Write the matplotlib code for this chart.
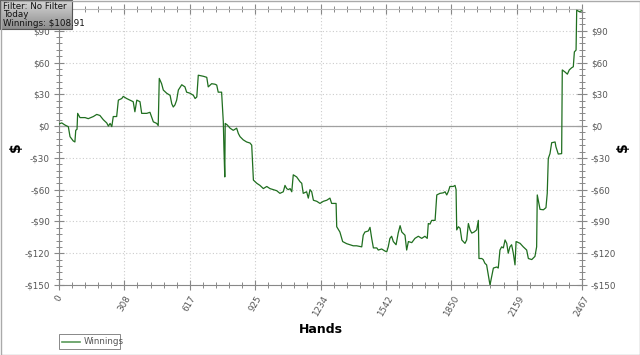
import matplotlib
matplotlib.use("Agg")
import matplotlib.pyplot as plt
import numpy as np
from matplotlib.patches import Rectangle
from matplotlib.ticker import FixedLocator, MultipleLocator

hands = [0, 13, 28, 44, 52, 67, 75, 79, 85, 88, 99, 123, 138, 162, 178, 193, 209, 225, 233, 241,
         249, 256, 272, 280, 296, 303, 319, 335, 350, 358, 367, 382, 390, 414, 429, 445, 461, 468, 473, 484,
         492, 508, 524, 532, 539, 547, 555, 563, 579, 594, 602, 618, 634, 642, 650, 657, 681, 697, 704, 720,
         736, 744, 751, 767, 775, 778, 782, 784, 794, 807, 822, 838, 846, 854, 869, 885, 901, 909, 917, 933,
         948, 964, 980, 995, 1011, 1027, 1042, 1058, 1066, 1074, 1082, 1090, 1098, 1105, 1121, 1137, 1145, 1152, 1168, 1176,
         1184, 1192, 1200, 1216, 1231, 1247, 1263, 1278, 1286, 1307, 1310, 1325, 1338, 1357, 1373, 1388, 1404, 1428, 1435, 1443,
         1459, 1467, 1475, 1483, 1499, 1506, 1522, 1538, 1546, 1553, 1561, 1569, 1577, 1590, 1600, 1609, 1617, 1632, 1640, 1648,
         1664, 1679, 1695, 1711, 1726, 1737, 1742, 1750, 1758, 1774, 1782, 1797, 1813, 1821, 1829, 1836, 1844, 1860, 1868, 1873,
         1876, 1884, 1892, 1900, 1915, 1923, 1931, 1939, 1947, 1958, 1970, 1978, 1981, 1994, 2001, 2009, 2017, 2025, 2033, 2041,
         2049, 2065, 2072, 2080, 2088, 2096, 2104, 2112, 2119, 2127, 2135, 2143, 2151, 2156, 2175, 2190, 2206, 2214, 2230, 2245,
         2253, 2256, 2269, 2285, 2297, 2303, 2308, 2316, 2324, 2340, 2344, 2355, 2371, 2374, 2387, 2398, 2407, 2418, 2426, 2431,
         2439, 2442, 2454, 2467]
winnings = [2, 3, 1, -0.6, -10, -14, -15, -4, -3, 12, 8, 8, 7, 9, 11, 10, 6, 3, 0, 2.5,
            -0.5, 9, 9, 24.5, 26, 28, 26, 24.5, 23, 13.5, 24.5, 23, 12, 12, 13, 4, 2.5, 0.5, 45, 40,
            34, 31, 29, 21, 18, 20, 24.5, 34, 39, 37, 32, 31, 29, 26, 27.5, 48, 47, 46, 37, 40,
            39.5, 38.7, 32, 32, 4, -21, -48, 2.5, 1, -2, -4, -2, -7, -10, -13, -15, -16, -18, -51, -54,
            -56, -59, -57, -59, -60, -61, -63.5, -62, -56, -59, -60, -59, -62, -46, -48, -52.5, -54, -63.5, -62, -68,
            -60, -62, -70, -71, -73, -71, -70, -68, -73, -73, -95, -100, -109, -111, -112, -113, -113, -114, -103, -100,
            -99, -95.6, -106, -115, -115, -117, -116, -118, -118.6, -114, -106, -104, -109, -112, -101, -94, -100, -103, -117, -109,
            -110, -106, -104, -106, -104, -106, -92, -92.5, -89, -89, -65, -63.5, -63, -62, -65, -62, -57, -57, -56, -60,
            -98, -95, -96.5, -107.5, -110.7, -107.5, -92, -98, -101, -100, -98, -89, -125, -125, -126, -129.5, -131, -140.6, -150, -142,
            -134, -133, -134, -117, -114, -115, -107.5, -110.7, -120, -114, -112, -120, -131, -109, -110.7, -114, -117, -125, -126, -123,
            -114, -65, -78.6, -79, -77, -63.5, -30.5, -26, -15.7, -15, -19.5, -26.4, -26, 53, 51, 49, 53, 55, 56, 70,
            71.7, 109.4, 108, 108.91]

x_tick_labels = ["0", "308", "617", "925", "1234", "1542", "1850", "2159", "2467"]
y_ticks = [-150, -120, -90, -60, -30, 0, 30, 60, 90]
series_name = "Winnings"
info_lines = ["Filter: No Filter", "Today", "Winnings: $108.91"]

def money(v):
    return ("-$%d" % abs(v)) if v < 0 else ("$%d" % v)

fig = plt.figure(figsize=(6.4, 3.55), dpi=100)
fig.patch.set_facecolor("white")
ax = fig.add_axes([59/640, 1-285/355, 523/640, 276/355])

ax.plot(hands, winnings, color="#1f6e1f", lw=0.9, zorder=3)
ax.axhline(0, color="#a0a0a0", lw=0.9, zorder=2)

xmax = 2467
ax.set_xlim(0, xmax)
ax.set_ylim(-150, 110.5)

xt = np.linspace(0, xmax, len(x_tick_labels))
ax.xaxis.set_major_locator(FixedLocator(xt))
ax.xaxis.set_minor_locator(FixedLocator(np.linspace(0, xmax, (len(x_tick_labels)-1)*5+1)))
ax.set_xticklabels(x_tick_labels, rotation=60, ha="center", va="top")
ax.yaxis.set_major_locator(FixedLocator(y_ticks))
ax.yaxis.set_minor_locator(MultipleLocator(6))
ax.set_yticklabels([money(v) for v in y_ticks])

ax.grid(True, which="major", color="#cccccc", ls=(0, (1, 2)), lw=0.8)

for s in ax.spines.values():
    s.set_color("#888888")
    s.set_linewidth(0.8)
ax.spines["top"].set_color("#bbbbbb")

ax.tick_params(which="major", direction="inout", length=7, width=0.8, color="#888888",
               labelsize=6.3, labelcolor="#555555", left=True, right=True, top=True, bottom=True,
               labelright=True, pad=3)
ax.tick_params(which="minor", direction="inout", length=4, width=0.7, color="#888888",
               left=True, right=True, top=True, bottom=True)

ax.set_xlabel("Hands", fontsize=9, fontweight="bold", labelpad=4)
fig.text(16/640, 1-147/355, "$", rotation=90, fontsize=10, fontweight="bold", ha="center", va="center")
fig.text(623/640, 1-147/355, "$", rotation=90, fontsize=10, fontweight="bold", ha="center", va="center")

# overlay for legend, info box and border
ov = fig.add_axes([0, 0, 1, 1], facecolor="none")
ov.axis("off")
ov.add_patch(Rectangle((59, 334), 61, 15, fill=False, ec="#888888", lw=0.7))
ov.plot([62, 80], [341.5, 341.5], color="#5a9a5a", lw=1.2)
ov.text(84, 341.5, series_name, fontsize=6.3, color="#555555", va="center", ha="left")

grad = np.linspace(0, 1, 50).reshape(-1, 1)
ov.imshow(grad, extent=(0, 72, 29, 0), cmap=matplotlib.colors.LinearSegmentedColormap.from_list(
    "g", ["#d8d8d8", "#8c8c8c"]), aspect="auto", zorder=5)
ov.add_patch(Rectangle((0, 0), 72, 29, fill=False, ec="#555555", lw=0.8, zorder=6))
for i, t in enumerate(info_lines):
    ov.text(3, 6.5 + i*8.3, t, fontsize=6.3, color="#111111", va="center", ha="left", zorder=7)
ov.add_patch(Rectangle((0.5, 0.5), 639, 354, fill=False, ec="#aaaaaa", lw=1.0, zorder=8))
ov.set_xlim(0, 640); ov.set_ylim(355, 0)

fig.savefig("out.png", dpi=100)
